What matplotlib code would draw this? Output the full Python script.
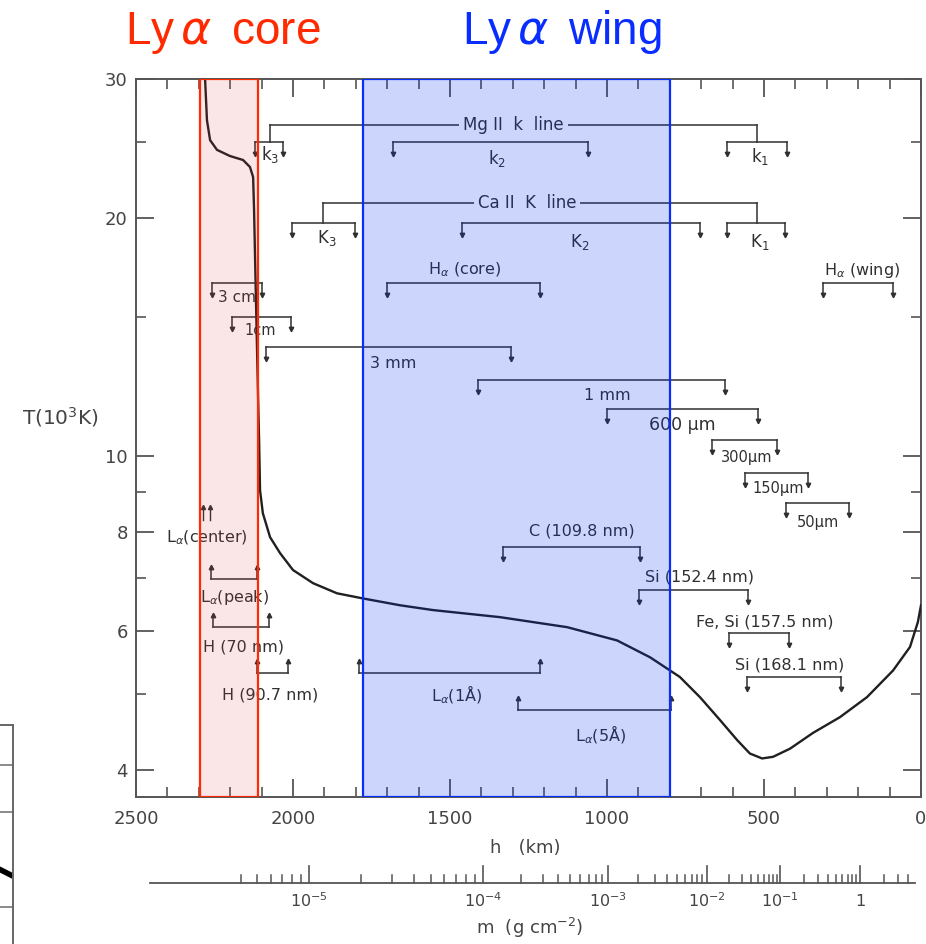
import numpy as np
import matplotlib
matplotlib.use("Agg")
import matplotlib.pyplot as plt
import matplotlib.transforms as mtransforms
from matplotlib.patches import Rectangle
from matplotlib.ticker import FixedLocator, NullFormatter, FixedFormatter

plt.rcParams['font.family'] = ['DejaVu Sans']
plt.rcParams['mathtext.fontset'] = 'dejavusans'

# ---------------- data ----------------
# VAL-C temperature (10^3 K) versus height (km)
h_km = [2281, 2280, 2274, 2264, 2242, 2201, 2159, 2137, 2127, 2124, 2118, 2111,
        2108, 2105, 2096, 2073, 2041, 2000, 1936, 1860, 1777, 1659, 1554, 1341,
        1127, 968, 863, 768, 704, 640, 586, 545, 506, 471, 417, 344, 258, 172,
        89, 35, 10, 0]
T_kK = [31.0, 30.0, 26.6, 25.1, 24.4, 23.97, 23.69, 23.21, 22.54, 20.48, 15.75, 11.77,
        10.47, 9.05, 8.46, 7.89, 7.53, 7.17, 6.90, 6.70, 6.60, 6.47, 6.38, 6.25,
        6.07, 5.84, 5.56, 5.25, 4.95, 4.63, 4.37, 4.20, 4.14, 4.16, 4.26, 4.46, 4.67, 4.95,
        5.35, 5.73, 6.16, 6.47]

# formation-height ranges of lines / continua
brk_label = ["k$_3$", "k$_2$", "k$_1$", "K$_3$", "K$_2$", "K$_1$",
             "H$_\\alpha$ (core)", "H$_\\alpha$ (wing)", "3 cm", "1cm", "3 mm", "1 mm",
             "600 μm", "300μm", "150μm", "50μm", "C (109.8 nm)", "Si (152.4 nm)",
             "Fe, Si (157.5 nm)", "Si (168.1 nm)", "L$_\\alpha$(peak)", "H (70 nm)",
             "H (90.7 nm)", "L$_\\alpha$(1Å)", "L$_\\alpha$(5Å)"]
brk_h_top = [2121, 1682, 618, 2003, 1462, 618, 1701, 312, 2258, 2194, 2086, 1411,
             1000, 666, 561, 430, 1331, 898, 612, 554, 2261, 2255, 2115, 1790, 1283]
brk_h_bot = [2032, 1061, 427, 1803, 704, 433, 1213, 89, 2099, 2006, 1306, 624,
             519, 459, 360, 229, 895, 551, 420, 255, 2115, 2076, 2016, 1213, 796]

# Mg II / Ca II line groups
grp_label = ["Mg II  k  line", "Ca II  K  line"]
grp_h_top = [2073, 1904]
grp_h_bot = [522, 522]

# Ly-alpha windows (km)
core_h = (2296, 2111)
wing_h = (1777, 799)

# column mass axis: decade exponents and their heights (km)
m_exp = [-6, -5, -4, -3, -2, -1, 0, 1]
m_h = [2497, 1949, 1395, 997, 682, 449, 194, -60]
m_labels = ["10$^{-5}$", "10$^{-4}$", "10$^{-3}$", "10$^{-2}$", "10$^{-1}$", "1"]
m_label_exp = [-5, -4, -3, -2, -1, 0]

# ---------------- layout (positions of bars/labels in plot units) ----------------
brk_T = [24.96, 24.96, 24.96, 19.71, 19.71, 19.71, 16.55, 16.55, 16.55, 14.99, 13.73, 12.47,
         11.46, 10.47, 9.51, 8.71, 7.66, 6.76, 5.97, 5.25, 6.98, 6.07, 5.31, 5.31, 4.77]
brk_dir = [-1] * 20 + [1] * 5
lab_h = [2073, 1350, 513, 1892, 1086, 513, 1452, 188, 2178, 2105, 1682, 1000,
         761, 554, 455, 328, 1080, 707, 497, 417, 2185, 2159, 2073, 1478, 1022]
lab_T = [24.04, 23.8, 23.9, 18.87, 18.65, 18.65, 17.19, 17.19, 15.85, 14.43, 13.11, 11.94,
         10.94, 9.96, 9.10, 8.24, 8.03, 7.02, 6.16, 5.43, 6.62, 5.73, 4.98, 4.98, 4.43]
lab_size = [12, 12, 12, 12, 12, 12, 11.5, 11.5, 11, 10.5, 11.5, 11.5,
            12.5, 10.5, 10.5, 10.5, 11.5, 11.5, 11.5, 11.5, 11.5, 11.5, 11.5, 11.5, 11.5]
grp_T = [26.24, 20.90]
grp_sub_T = [24.96, 19.71]
grp_lab_h = [1298, 1255]

ink = '#303030'
gray = '#555555'

W, H = 926, 944
fig = plt.figure(figsize=(W / 100, H / 100), dpi=100)
ax = fig.add_axes([136 / W, 147 / H, 785 / W, 718 / H])

ax.set_yscale('log')
ax.set_xlim(2500, 0)
ax.set_ylim(3.70, 30)

ax.plot(h_km, T_kK, color='#202020', lw=1.7, zorder=3, clip_on=True)

tick_f = 10 ** (12 / 789.7)
for lab, h1, h2, T, d, lh, lT, fs in zip(brk_label, brk_h_top, brk_h_bot, brk_T, brk_dir,
                                          lab_h, lab_T, lab_size):
    ax.plot([h1, h2], [T, T], color=ink, lw=1.1, zorder=3)
    Tend = T * tick_f ** d
    for hh in (h1, h2):
        ax.plot([hh, hh], [T, Tend], color=ink, lw=1.1, zorder=3)
        ax.plot(hh, Tend, marker='v' if d < 0 else '^', ms=3.2, color=ink, zorder=3)
    ax.text(lh, lT, lab, ha='center', va='center', fontsize=fs, color=ink, zorder=3)

for lab, h1, h2, T, Ts, lh in zip(grp_label, grp_h_top, grp_h_bot, grp_T, grp_sub_T, grp_lab_h):
    ax.plot([h1, h2], [T, T], color=ink, lw=1.1, zorder=3)
    ax.plot([h1, h1], [T, Ts], color=ink, lw=1.1, zorder=3)
    ax.plot([h2, h2], [T, Ts], color=ink, lw=1.1, zorder=3)
    ax.text(lh, T, lab, ha='center', va='center', fontsize=12, color=ink, zorder=3.5,
            bbox=dict(boxstyle='square,pad=0.25', fc='white', ec='none'))

# L-alpha (center): arrows pointing out of the top
for hh in (2287, 2265):
    ax.plot([hh, hh], [8.30, 8.62], color=ink, lw=1.0, zorder=3)
    ax.plot(hh, 8.62, marker='^', ms=3.0, color=ink, zorder=3)
ax.text(2274, 7.87, "L$_\\alpha$(center)", ha='center', va='center', fontsize=11.5,
        color=ink, zorder=3)

# Ly-alpha windows
trans = mtransforms.blended_transform_factory(ax.transData, ax.transAxes)
ax.add_patch(Rectangle((core_h[1], 0), core_h[0] - core_h[1], 1, transform=trans,
                       facecolor=(0.85, 0.2, 0.2, 0.12), edgecolor='none', zorder=5))
ax.add_patch(Rectangle((core_h[1], 0), core_h[0] - core_h[1], 1, transform=trans,
                       facecolor='none', edgecolor='#ff2a00', lw=1.6, zorder=6))
ax.add_patch(Rectangle((wing_h[1], 0), wing_h[0] - wing_h[1], 1, transform=trans,
                       facecolor=(0.0, 0.18, 0.94, 0.20), edgecolor='none', zorder=5))
ax.add_patch(Rectangle((wing_h[1], 0), wing_h[0] - wing_h[1], 1, transform=trans,
                       facecolor='none', edgecolor='#0a2dff', lw=1.6, zorder=6))

# axes styling
for s in ax.spines.values():
    s.set_color(gray)
    s.set_linewidth(1.4)
ax.yaxis.set_major_locator(FixedLocator([4, 6, 8, 10, 20, 30]))
ax.yaxis.set_major_formatter(FixedFormatter(["4", "6", "8", "10", "20", "30"]))
ax.yaxis.set_minor_locator(FixedLocator([5, 7, 9, 15, 25]))
ax.yaxis.set_minor_formatter(NullFormatter())
ax.xaxis.set_major_locator(FixedLocator([2500, 2000, 1500, 1000, 500, 0]))
ax.xaxis.set_minor_locator(FixedLocator(np.arange(0, 2501, 100)))
ax.tick_params(which='both', direction='in', top=True, right=True, color=gray,
               labelcolor='#444444', labelsize=13)
ax.tick_params(which='major', length=13, width=1.3)
ax.tick_params(which='minor', length=7, width=1.2)
ax.tick_params(axis='x', which='major', pad=9)
ax.tick_params(axis='y', which='major', pad=6)

fig.text(60 / W, 1 - 417 / H, "T(10$^3$K)", ha='center', va='center', fontsize=14.5,
         color='#444444')
fig.text(525 / W, 1 - 848 / H, "h   (km)", ha='center', va='center', fontsize=13,
         color='#444444')

# titles
fig.text(223 / W, 1 - 44 / H, "Ly$\\,\\alpha\\,$ core", ha='center', va='baseline', fontsize=33,
         color='#ff2a00', family='Liberation Sans')
fig.text(562 / W, 1 - 44 / H, "Ly$\\,\\alpha\\,$ wing", ha='center', va='baseline', fontsize=33,
         color='#0a2dff', family='Liberation Sans')

# column-mass axis
axm = fig.add_axes([136 / W, 0, 785 / W, 94.4 / H])
axm.set_xlim(2500, 0)
axm.set_ylim(0, 94.4)
axm.axis('off')
base = 61
axm.plot([2455, 19], [base, base], color=gray, lw=1.3)
minor_m = []
for e in range(-6, 1):
    for k in range(2, 10):
        minor_m.append(k * 10.0 ** e)
minor_m = [m for m in minor_m if 4e-6 <= m <= 4.0]
minor_h = np.interp(np.log10(minor_m), m_exp, m_h)
for hh in minor_h:
    axm.plot([hh, hh], [base, base + 8], color=gray, lw=1.1)
major_h = np.interp(m_label_exp, m_exp, m_h)
for hh, lab in zip(major_h, m_labels):
    axm.plot([hh, hh], [base, base + 17], color=gray, lw=1.2)
    axm.text(hh, base - 18, lab, ha='center', va='center', fontsize=11.5, color='#444444')
fig.text(530 / W, 1 - 928 / H, "m  (g cm$^{-2}$)", ha='center', va='center', fontsize=13,
         color='#444444')

# fragment of a neighbouring panel at bottom-left
axf = fig.add_axes([0, 0, 13 / W, 219 / H])
axf.set_xlim(0, 1)
axf.set_ylim(0, 1)
axf.set_xticks([])
axf.set_yticks([])
for k, s in axf.spines.items():
    s.set_visible(k in ('top', 'right'))
    s.set_color('#666666')
    s.set_linewidth(1.4)
for yy in (0.817, 0.603, 0.169):
    axf.axhline(yy, color='#777777', lw=1.2)
axf.plot([0, 1], [0.34, 0.31], color='black', lw=4)

fig.savefig("out.png", dpi=100)
